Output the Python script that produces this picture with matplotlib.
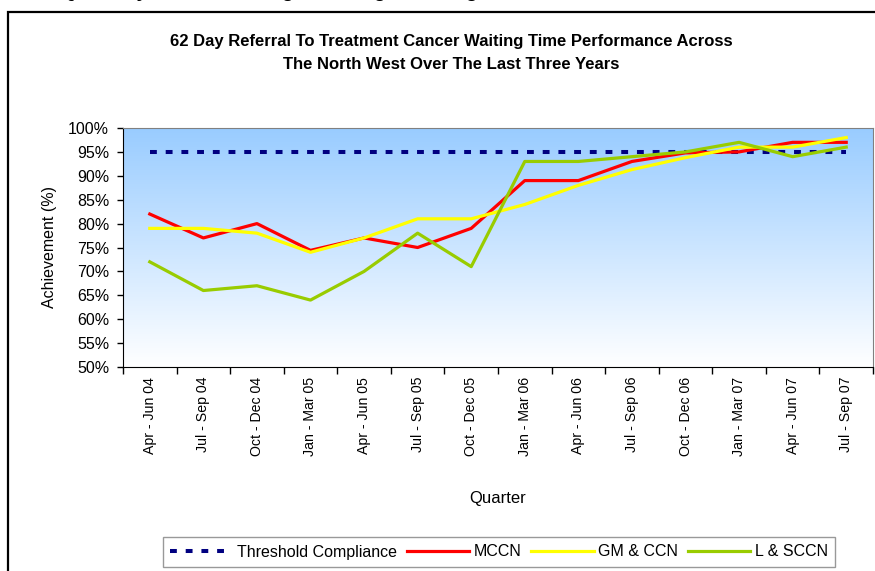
import numpy as np
import matplotlib.pyplot as plt
from matplotlib.colors import LinearSegmentedColormap
from matplotlib.patches import Rectangle
from matplotlib.ticker import PercentFormatter, FixedLocator

plt.rcParams['font.family'] = ['Liberation Sans', 'DejaVu Sans']

# Data (percent)
quarters = ['Apr - Jun 04', 'Jul - Sep 04', 'Oct - Dec 04', 'Jan - Mar 05',
            'Apr - Jun 05', 'Jul - Sep 05', 'Oct - Dec 05', 'Jan - Mar 06',
            'Apr - Jun 06', 'Jul - Sep 06', 'Oct - Dec 06', 'Jan - Mar 07',
            'Apr - Jun 07', 'Jul - Sep 07']
threshold = [95, 95, 95, 95, 95, 95, 95, 95, 95, 95, 95, 95, 95, 95]
mccn = [82, 77, 80, 74.4, 77, 75, 79, 89, 89, 93, 94.8, 95, 97, 97]
gm_ccn = [79, 79, 78, 74, 77, 81, 81, 84, 88, 91.3, 93.8, 96, 96, 98]
l_sccn = [72, 66, 67, 64, 70, 78, 71, 93, 93, 94, 95, 97, 94, 96]

fig = plt.figure(figsize=(8.75, 5.71), dpi=100)
W, H = 875, 571

# outer frame of the report figure, runs off the right and bottom edges
fig.patches.append(Rectangle((8 / W, -0.1), 1.2, 1.1 - 12 / H, transform=fig.transFigure,
                             fill=False, edgecolor='black', linewidth=1.6))
# caption of the report, only its descenders show above the frame
fig.text(-0.031, 1 + 3 / H, 'Figure 1: Quarterly Cancer Waiting Times Against Target',
         fontsize=14, fontweight='bold', ha='left', va='baseline')

ax = fig.add_axes([123 / W, 1 - 367 / H, 750 / W, 239 / H])
x = np.arange(len(quarters))

# blue to white gradient plot area
cmap = LinearSegmentedColormap.from_list('bg', ['#ffffff', '#99ccff'])
grad = np.linspace(0, 1, 256).reshape(-1, 1)
ax.imshow(grad, extent=[-0.5, len(quarters) - 0.5, 50, 100], origin='lower',
          aspect='auto', cmap=cmap, zorder=0)

ax.plot(x, threshold, color='#000080', lw=2.9, dashes=(1.7, 2.2), label='Threshold Compliance', zorder=2)
ax.plot(x, mccn, color='#ff0000', lw=2.3, label='MCCN', zorder=3)
ax.plot(x, gm_ccn, color='#ffff00', lw=2.3, label='GM & CCN', zorder=4)
ax.plot(x, l_sccn, color='#99cc00', lw=2.3, label='L & SCCN', zorder=5)

ax.set_xlim(-0.5, len(quarters) - 0.5)
ax.set_ylim(50, 100)
ax.set_yticks(np.arange(50, 101, 5))
ax.yaxis.set_major_formatter(PercentFormatter(decimals=0))
ax.tick_params(axis='y', direction='out', length=4.5, width=1, pad=5.5, labelsize=11.5)

ax.xaxis.set_major_locator(FixedLocator(np.arange(-0.5, len(quarters), 1)))
ax.xaxis.set_minor_locator(FixedLocator(x))
ax.set_xticklabels([], minor=False)
ax.set_xticklabels(quarters, minor=True, rotation=90, fontsize=10.2)
ax.tick_params(axis='x', which='major', direction='out', length=5, width=1)
ax.tick_params(axis='x', which='minor', length=0, pad=7)

for s in ['top', 'right']:
    ax.spines[s].set_color('#808080')
for s in ['left', 'bottom']:
    ax.spines[s].set_color('black')

ax.set_ylabel('Achievement (%)', fontsize=11.5, labelpad=8)
ax.set_xlabel('Quarter', fontsize=12, labelpad=25)

fig.text(451 / W, 1 - 53 / H,
         '62 Day Referral To Treatment Cancer Waiting Time Performance Across\n'
         'The North West Over The Last Three Years',
         ha='center', va='center', fontsize=12, fontweight='bold', linespacing=1.65)

leg = fig.legend(loc='center', bbox_to_anchor=(499 / W, 1 - 552 / H), ncol=4,
                 fontsize=11.5, frameon=True, fancybox=False, handlelength=3.9,
                 handletextpad=0.3, columnspacing=0.6, borderpad=0.45, borderaxespad=0)
leg.get_frame().set_edgecolor('#808080')
leg.get_frame().set_linewidth(1)

fig.savefig('out.png', dpi=100)
